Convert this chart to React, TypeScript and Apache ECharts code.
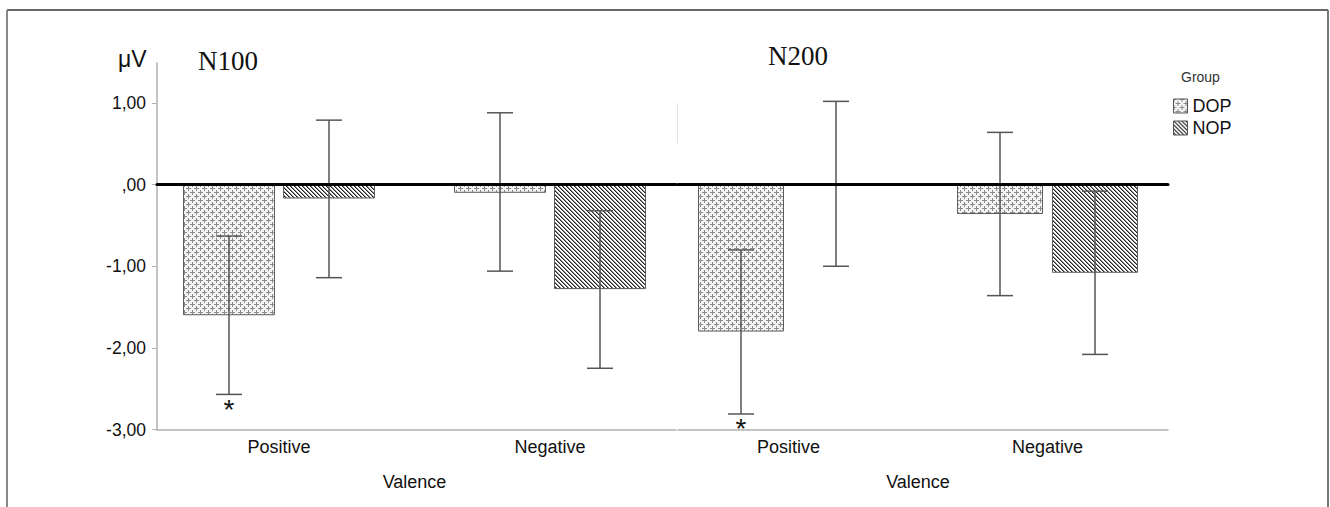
import React, { useEffect, useRef } from "react";
import * as echarts from "echarts";

const categories = ["Positive", "Negative"];
const groups = ["DOP", "NOP"];
const panelTitles = ["N100", "N200"];
const yTicks = [-3, -2, -1, 0, 1];
const yMin = -3;
const yMax = 1.49;

// N100
const n100DopMean = [-1.6, -0.1];
const n100DopLow = [-2.57, -1.06];
const n100DopHigh = [-0.63, 0.88];
const n100DopSig = [true, false];
const n100NopMean = [-0.17, -1.28];
const n100NopLow = [-1.14, -2.25];
const n100NopHigh = [0.79, -0.32];
const n100NopSig = [false, false];
// N200
const n200DopMean = [-1.8, -0.36];
const n200DopLow = [-2.81, -1.36];
const n200DopHigh = [-0.8, 0.64];
const n200DopSig = [true, false];
const n200NopMean = [0.01, -1.08];
const n200NopLow = [-1.0, -2.08];
const n200NopHigh = [1.02, -0.08];
const n200NopSig = [false, false];

const SANS = "Liberation Sans";
const SERIF = "Liberation Serif";

function makeDopTile() {
  const c = document.createElement("canvas");
  c.width = 8;
  c.height = 8;
  const ctx = c.getContext("2d")!;
  ctx.fillStyle = "#f3f3f3";
  ctx.fillRect(0, 0, 8, 8);
  ctx.fillStyle = "#8c8c8c";
  // plus centred at (4,4)
  ctx.fillRect(2, 4, 5, 1);
  ctx.fillRect(4, 2, 1, 5);
  // plus centred at (0,0), wrapping over the tile edges
  ctx.fillRect(0, 0, 3, 1);
  ctx.fillRect(6, 0, 2, 1);
  ctx.fillRect(0, 1, 1, 2);
  ctx.fillRect(0, 6, 1, 2);
  return c;
}

function makeNopTile() {
  const c = document.createElement("canvas");
  c.width = 4;
  c.height = 4;
  const ctx = c.getContext("2d")!;
  ctx.fillStyle = "#ffffff";
  ctx.fillRect(0, 0, 4, 4);
  for (let i = 0; i < 4; i++) {
    ctx.fillStyle = "#222222";
    ctx.fillRect(i, i, 1, 1);
    ctx.fillStyle = "#8a8a8a";
    ctx.fillRect((i + 1) % 4, i, 1, 1);
  }
  return c;
}

function fmt(v: number) {
  const s = v.toFixed(2).replace(".", ",");
  return s.replace(/^0/, "").replace(/^-0/, "-");
}

export default function App() {
  const ref = useRef<HTMLDivElement>(null);

  useEffect(() => {
    if (!ref.current) return;
    const chart = echarts.init(ref.current, null, { renderer: "svg" });

    const dopFill = { image: makeDopTile(), repeat: "repeat", imageWidth: 8, imageHeight: 8 } as any;
    const nopFill = { image: makeNopTile(), repeat: "repeat", imageWidth: 4, imageHeight: 4 } as any;
    const fills = [dopFill, nopFill];

    const gridTop = 63;
    const gridHeight = 366.5;

    const leftBarW = 92;
    const leftGap = 8;
    const rightBarW = 86;
    const rightGap = 9;

    const errSeries = (
      name: string,
      xIdx: number,
      yIdx: number,
      low: number[],
      high: number[],
      sig: boolean[],
      offset: number
    ) => ({
      type: "custom",
      name,
      xAxisIndex: xIdx,
      yAxisIndex: yIdx,
      z: 6,
      encode: { x: 0, y: [1, 2] },
      data: categories.map((_, i) => [i, low[i], high[i], sig[i] ? 1 : 0]),
      renderItem: (params: any, api: any) => {
        const i = api.value(0);
        const pLow = api.coord([i, api.value(1)]);
        const pHigh = api.coord([i, api.value(2)]);
        const x = pLow[0] + offset;
        const st = { stroke: "#555", lineWidth: 1.5 };
        const children: any[] = [
          { type: "line", shape: { x1: x, y1: pLow[1], x2: x, y2: pHigh[1] }, style: st },
          { type: "line", shape: { x1: x - 13, y1: pLow[1], x2: x + 13, y2: pLow[1] }, style: st },
          { type: "line", shape: { x1: x - 13, y1: pHigh[1], x2: x + 13, y2: pHigh[1] }, style: st },
        ];
        if (api.value(3)) {
          children.push({
            type: "text",
            x: x,
            y: pLow[1] + 1,
            style: {
              text: "*",
              fontSize: 28,
              fontFamily: SANS,
              align: "center",
              verticalAlign: "top",
              fill: "#111",
            },
          });
        }
        return { type: "group", children };
      },
    });

    const barSeries = (name: string, gi: number, xIdx: number, yIdx: number, data: number[], w: number, gap: number) => ({
      type: "bar",
      name,
      xAxisIndex: xIdx,
      yAxisIndex: yIdx,
      barWidth: w,
      barGap: (gap / w) * 100 + "%",
      z: 2,
      itemStyle: { color: fills[gi], borderColor: "#5e5e5e", borderWidth: 1 },
      data,
    });

    const hiddenY = (gridIndex: number) => ({
      type: "value",
      gridIndex,
      min: yMin,
      max: yMax,
      show: false,
    });

    const labelX = (gridIndex: number) => ({
      type: "category",
      gridIndex,
      data: categories,
      axisLine: { show: false },
      axisTick: { show: false },
      axisLabel: { fontSize: 18, fontFamily: SANS, color: "#111", margin: 8 },
      name: "Valence",
      nameLocation: "middle",
      nameGap: 43,
      nameTextStyle: { fontSize: 18, fontFamily: SANS, color: "#111" },
    });

    const bottomX = (gridIndex: number) => ({
      type: "category",
      gridIndex,
      data: categories,
      position: "bottom",
      axisLine: { show: true, onZero: false, lineStyle: { color: "#b0b0b0", width: 1.5 } },
      axisTick: { show: false },
      axisLabel: { show: false },
    });

    const zeroX = (gridIndex: number) => ({
      type: "category",
      gridIndex,
      data: categories,
      position: "bottom",
      z: 8,
      axisLine: { show: true, onZero: true, lineStyle: { color: "#000", width: 3 } },
      axisTick: { show: false },
      axisLabel: { show: false },
    });

    const option: any = {
      animation: false,
      backgroundColor: "#ffffff",
      grid: [
        { left: 143.5, top: gridTop, width: 542, height: gridHeight },
        { left: 157, top: gridTop, width: 519, height: gridHeight },
        { left: 659, top: gridTop, width: 518, height: gridHeight },
        { left: 678, top: gridTop, width: 490, height: gridHeight },
      ],
      xAxis: [labelX(0), bottomX(1), zeroX(1), labelX(2), bottomX(3), zeroX(3)],
      yAxis: [
        hiddenY(0),
        {
          type: "value",
          gridIndex: 1,
          min: yMin,
          max: yMax,
          interval: 1,
          axisLine: { show: true, lineStyle: { color: "#b0b0b0", width: 1.5 } },
          axisTick: { show: true, length: 5, customValues: yTicks, lineStyle: { color: "#b0b0b0" } },
          axisLabel: {
            customValues: yTicks,
            formatter: (v: number) => fmt(v),
            fontSize: 17.5,
            fontFamily: SANS,
            color: "#111",
            margin: 11,
          },
          splitLine: { show: false },
        },
        hiddenY(2),
        hiddenY(3),
      ],
      legend: {
        data: groups,
        orient: "vertical",
        left: 1168,
        top: 92,
        itemWidth: 14,
        itemHeight: 14,
        itemGap: 4,
        icon: "rect",
        selectedMode: false,
        itemStyle: { borderColor: "#555", borderWidth: 1 },
        textStyle: { fontSize: 18, fontFamily: SANS, color: "#111", padding: [0, 0, 0, 0] },
      },
      graphic: [
        { type: "line", shape: { x1: 7, y1: 10, x2: 1328, y2: 10 }, style: { stroke: "#333", lineWidth: 1.5 } },
        { type: "line", shape: { x1: 7, y1: 10, x2: 7, y2: 507 }, style: { stroke: "#888", lineWidth: 2 } },
        { type: "line", shape: { x1: 1328, y1: 10, x2: 1328, y2: 507 }, style: { stroke: "#777", lineWidth: 2 } },
        { type: "line", shape: { x1: 677.5, y1: 103, x2: 677.5, y2: 143 }, style: { stroke: "#e2e2e2", lineWidth: 1 } },
        { type: "text", left: 118, top: 47, style: { text: "μV", fontSize: 23, fontFamily: SANS, fill: "#111" } },
        { type: "text", left: 198, top: 47, style: { text: panelTitles[0], fontSize: 27, fontFamily: SERIF, fill: "#111" } },
        { type: "text", left: 768, top: 42, style: { text: panelTitles[1], fontSize: 27, fontFamily: SERIF, fill: "#111" } },
        { type: "text", left: 1181, top: 70, style: { text: "Group", fontSize: 14, fontFamily: SANS, fill: "#333" } },
      ],
      series: [
        barSeries(groups[0], 0, 0, 0, n100DopMean, leftBarW, leftGap),
        barSeries(groups[1], 1, 0, 0, n100NopMean, leftBarW, leftGap),
        barSeries(groups[0], 0, 3, 2, n200DopMean, rightBarW, rightGap),
        barSeries(groups[1], 1, 3, 2, n200NopMean, rightBarW, rightGap),
        errSeries("errN100DOP", 0, 0, n100DopLow, n100DopHigh, n100DopSig, -(leftBarW + leftGap) / 2),
        errSeries("errN100NOP", 0, 0, n100NopLow, n100NopHigh, n100NopSig, (leftBarW + leftGap) / 2),
        errSeries("errN200DOP", 3, 2, n200DopLow, n200DopHigh, n200DopSig, -(rightBarW + rightGap) / 2),
        errSeries("errN200NOP", 3, 2, n200NopLow, n200NopHigh, n200NopSig, (rightBarW + rightGap) / 2),
      ],
    };

    chart.setOption(option);
    return () => chart.dispose();
  }, []);

  return (
    <div
      ref={ref}
      style={{ position: "absolute", left: 0, top: 0, width: 1330, height: 507, background: "#fff" }}
    />
  );
}
